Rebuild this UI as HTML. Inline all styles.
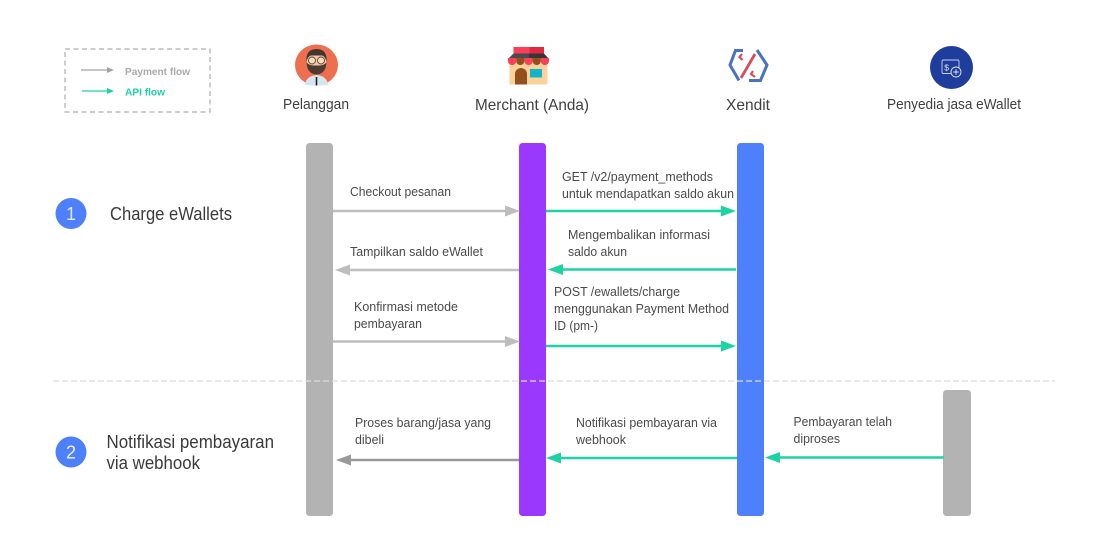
<!DOCTYPE html>
<html lang="id">
<head>
<meta charset="utf-8">
<title>Charge eWallets flow</title>
<style>
html,body{margin:0;padding:0;background:#fff;}
body{width:1120px;height:556px;overflow:hidden;}
svg{display:block;}
text{font-family:"Liberation Sans",sans-serif;fill:#4a4a4a;}
.m{font-size:13px;}
.h{font-size:16px;fill:#3f3f3f;}
.s{font-size:18px;fill:#3a3a3a;}
</style>
</head>
<body>
<svg width="1120" height="556" viewBox="0 0 1120 556" xmlns="http://www.w3.org/2000/svg">
<rect width="1120" height="556" fill="#fff"/>

<!-- Legend -->
<rect x="65" y="49" width="145" height="63" fill="none" stroke="#aeaeae" stroke-width="1.2" stroke-dasharray="5 3.5"/>
<line x1="81" y1="70" x2="108" y2="70" stroke="#a5a5a5" stroke-width="1.2"/>
<polygon points="114,70 107,67 107,73" fill="#a5a5a5"/>
<line x1="82" y1="91" x2="108" y2="91" stroke="#1dd3a4" stroke-width="1.2"/>
<polygon points="114,91 107,88 107,94" fill="#1dd3a4"/>
<text x="125" y="75" font-size="10.5" font-weight="700" style="fill:#ababab" textLength="65" lengthAdjust="spacingAndGlyphs">Payment flow</text>
<text x="125" y="95.5" font-size="10.5" font-weight="700" style="fill:#1dd3a4" textLength="40" lengthAdjust="spacingAndGlyphs">API flow</text>

<!-- Pelanggan icon -->
<ellipse cx="316.5" cy="65" rx="21.5" ry="20.5" fill="#ee6f4f"/>
<path d="M305 85 Q306 76 316.5 75 Q327 76 328 85 Q322 85.5 316.5 85.5 Q311 85.5 305 85Z" fill="#d6e6ef"/>
<rect x="315.7" y="77" width="1.6" height="8.5" fill="#222"/>
<ellipse cx="316.5" cy="62" rx="10" ry="11" fill="#f4c7a0"/>
<path d="M306.5 62 Q305.5 49 316.5 49 Q327.5 49 326.5 62 Q325.5 56.5 322 55.5 L311 55.5 Q307.5 56.5 306.5 62Z" fill="#45352f"/>
<path d="M306.5 62 Q307 74 316.5 74.5 Q326 74 326.5 62 Q324.5 66 316.5 65.5 Q308.5 66 306.5 62Z" fill="#4f3a30"/>
<circle cx="312" cy="60.5" r="3.5" fill="#f7dcc3" stroke="#5a4a3f" stroke-width=".9"/>
<circle cx="321" cy="60.5" r="3.5" fill="#f7dcc3" stroke="#5a4a3f" stroke-width=".9"/>

<!-- Merchant icon -->
<rect x="513.5" y="47" width="16" height="6.500" fill="#fb3f56"/>
<rect x="529.5" y="47" width="14.5" height="6.500" fill="#e0283f"/>
<polygon points="513.5,53.500 529,53.500 529,59 508,59" fill="#4b4a52"/>
<polygon points="529,53.500 544,53.500 549,59 529,59" fill="#36353c"/>
<rect x="509.5" y="60" width="38" height="24.500" rx="1" fill="#fdd29a"/>
<path d="M508 58 h8.200 v3 a4.100 4.100 0 0 1 -8.200 0Z" fill="#fb3f56"/>
<path d="M516.200 58 h8.200 v3 a4.100 4.100 0 0 1 -8.200 0Z" fill="#93501c"/>
<path d="M524.400 58 h8.200 v3 a4.100 4.100 0 0 1 -8.200 0Z" fill="#fb3f56"/>
<path d="M532.600 58 h8.200 v3 a4.100 4.100 0 0 1 -8.200 0Z" fill="#93501c"/>
<path d="M540.800 58 h8.200 v3 a4.100 4.100 0 0 1 -8.200 0Z" fill="#fb3f56"/>
<path d="M515 84.500 V74 a6 6 0 0 1 12 0 V84.500Z" fill="#93501c"/>
<rect x="530" y="69" width="12" height="8.500" fill="#12b5c6"/>

<!-- Xendit icon -->
<g fill="none" stroke-linejoin="miter">
<polyline points="743,50.500 735.500,50.500 730,65 739,80.500" stroke="#4a72bd" stroke-width="3"/>
<polyline points="749,80.500 760.500,80.500 767,65 757,50" stroke="#4a72bd" stroke-width="3"/>
<line x1="755" y1="54" x2="741" y2="78" stroke="#d84d57" stroke-width="2.800"/>
<polyline points="742,54 739.5,57 742.5,60" stroke="#d84d57" stroke-width="2.200"/>
<polyline points="753,71 751,74 755,77" stroke="#d84d57" stroke-width="2.200"/>
</g>

<!-- eWallet icon -->
<circle cx="951.5" cy="67.500" r="21.500" fill="#1f3d9c"/>
<rect x="942" y="60" width="17" height="13.500" rx="1.500" fill="none" stroke="#c6d0ee" stroke-width=".9"/>
<text x="944.300" y="70.500" font-size="8.500" style="fill:#dfe5f7">$</text>
<circle cx="956" cy="72" r="5" fill="#1f3d9c" stroke="#dfe5f7" stroke-width=".9"/>
<path d="M956 69.200 V74.800 M953.200 72 H958.800" stroke="#dfe5f7" stroke-width=".9"/>

<!-- Headings -->
<text class="h" x="283" y="109" style="font-size:15px" textLength="66" lengthAdjust="spacingAndGlyphs">Pelanggan</text>
<text class="h" x="475" y="110" textLength="114" lengthAdjust="spacingAndGlyphs">Merchant (Anda)</text>
<text class="h" x="726" y="110" textLength="44" lengthAdjust="spacingAndGlyphs">Xendit</text>
<text class="h" x="887" y="109" style="font-size:15px" textLength="134" lengthAdjust="spacingAndGlyphs">Penyedia jasa eWallet</text>

<!-- Lifelines -->
<rect x="306" y="143" width="27" height="373" rx="3.500" fill="#b3b3b3"/>
<rect x="519" y="143" width="27" height="373" rx="3.500" fill="#9b38fd"/>
<rect x="737" y="143" width="27" height="373" rx="3.500" fill="#4f80fb"/>
<rect x="943" y="390" width="28" height="126" rx="3.500" fill="#b3b3b3"/>

<!-- Divider -->
<line x1="53" y1="381" x2="1055" y2="381" stroke="#dcdcdc" stroke-width="1.200" stroke-dasharray="6 3"/>

<!-- Section labels -->
<circle cx="71" cy="213.500" r="15.500" fill="#4f80fb"/>
<text x="71" y="220" text-anchor="middle" font-size="18" style="fill:#dfe8ff">1</text>
<text class="s" x="110" y="220" textLength="122" lengthAdjust="spacingAndGlyphs">Charge eWallets</text>
<circle cx="71" cy="452" r="15.500" fill="#4f80fb"/>
<text x="71" y="458.500" text-anchor="middle" font-size="18" style="fill:#eef3ff">2</text>
<text class="s" x="106.500" y="448" textLength="167.500" lengthAdjust="spacingAndGlyphs">Notifikasi pembayaran</text>
<text class="s" x="106.500" y="469" textLength="93.500" lengthAdjust="spacingAndGlyphs">via webhook</text>

<!-- Arrows: gray -->
<g stroke="#bdbdbd" stroke-width="2.500" fill="#bdbdbd">
<line x1="333" y1="211" x2="506" y2="211"/>
<polygon stroke="none" points="520,211 505,205.500 505,216.500"/>
<line x1="350" y1="270" x2="519" y2="270"/>
<polygon stroke="none" points="335,270 350,264.500 350,275.500"/>
<line x1="333" y1="341.500" x2="506" y2="341.500"/>
<polygon stroke="none" points="520,341.500 505,336 505,347"/>
</g>
<line x1="350" y1="460" x2="519" y2="460" stroke="#999" stroke-width="2.500"/>
<polygon points="336,460 351,454.500 351,465.500" fill="#999"/>

<!-- Arrows: green -->
<g stroke="#1dd3a4" stroke-width="2.500" fill="#1dd3a4">
<line x1="546" y1="211" x2="722" y2="211"/>
<polygon stroke="none" points="736,211 721,205.500 721,216.500"/>
<line x1="562" y1="269.500" x2="736" y2="269.500"/>
<polygon stroke="none" points="548,269.500 563,264 563,275"/>
<line x1="546" y1="346" x2="722" y2="346"/>
<polygon stroke="none" points="736,346 721,340.500 721,351.500"/>
<line x1="560" y1="458" x2="737" y2="458"/>
<polygon stroke="none" points="546,458 561,452.500 561,463.500"/>
<line x1="779" y1="457.500" x2="944" y2="457.500"/>
<polygon stroke="none" points="765,457.500 780,452 780,463"/>
</g>

<!-- Message labels -->
<text class="m" x="350" y="196" textLength="101" lengthAdjust="spacingAndGlyphs">Checkout pesanan</text>
<text class="m" x="350" y="256" textLength="133" lengthAdjust="spacingAndGlyphs">Tampilkan saldo eWallet</text>
<text class="m" x="354" y="311" textLength="104" lengthAdjust="spacingAndGlyphs">Konfirmasi metode</text>
<text class="m" x="354" y="328" textLength="68" lengthAdjust="spacingAndGlyphs">pembayaran</text>
<text class="m" x="355" y="427" textLength="136" lengthAdjust="spacingAndGlyphs">Proses barang/jasa yang</text>
<text class="m" x="355" y="444" textLength="29" lengthAdjust="spacingAndGlyphs">dibeli</text>

<text class="m" x="562" y="181" textLength="151" lengthAdjust="spacingAndGlyphs">GET /v2/payment_methods</text>
<text class="m" x="562" y="198" textLength="172" lengthAdjust="spacingAndGlyphs">untuk mendapatkan saldo akun</text>
<text class="m" x="568" y="239" textLength="142" lengthAdjust="spacingAndGlyphs">Mengembalikan informasi</text>
<text class="m" x="568" y="256" textLength="59" lengthAdjust="spacingAndGlyphs">saldo akun</text>
<text class="m" x="554" y="296" textLength="126" lengthAdjust="spacingAndGlyphs">POST /ewallets/charge</text>
<text class="m" x="554" y="313" textLength="175" lengthAdjust="spacingAndGlyphs">menggunakan Payment Method</text>
<text class="m" x="554" y="330" textLength="44" lengthAdjust="spacingAndGlyphs">ID (pm-)</text>
<text class="m" x="576" y="427" textLength="141" lengthAdjust="spacingAndGlyphs">Notifikasi pembayaran via</text>
<text class="m" x="576" y="444" textLength="50" lengthAdjust="spacingAndGlyphs">webhook</text>
<text class="m" x="793.500" y="426" textLength="98.500" lengthAdjust="spacingAndGlyphs">Pembayaran telah</text>
<text class="m" x="793.500" y="443" textLength="46.500" lengthAdjust="spacingAndGlyphs">diproses</text>
</svg>
</body>
</html>
